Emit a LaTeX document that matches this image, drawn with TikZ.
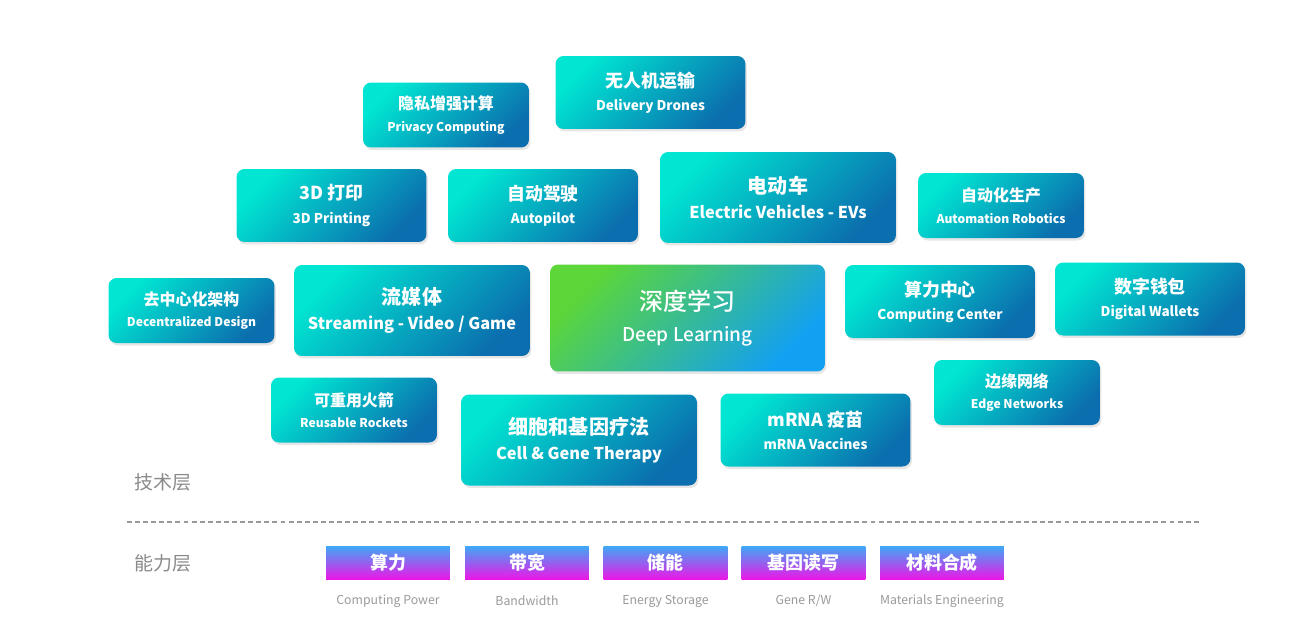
\documentclass[tikz,border=0pt]{standalone}
\usepackage{fontspec}
\setmainfont{Noto Sans CJK SC}
\newfontfamily\medfont{Noto Sans CJK SC Medium}
\usetikzlibrary{shadows}
\definecolor{aqua}{HTML}{00E6D2}
\definecolor{deepblue}{HTML}{0B6EAE}
\definecolor{leafgreen}{HTML}{5CD638}
\definecolor{skyblue}{HTML}{12A0F2}
\definecolor{barblue}{HTML}{3EA9F6}
\definecolor{barpink}{HTML}{EA18E6}
\definecolor{layergray}{HTML}{8A8A8A}
\definecolor{notegray}{HTML}{9A9A9A}
% two lines: Chinese size, English size, extra gap
\newcommand{\twolines}[5]{\fontsize{#1}{#1}\selectfont #4\\[#3]\fontsize{#2}{#2}\selectfont #5}
\newcommand{\txtS}[2]{\twolines{9.1pt}{6.9pt}{0.3pt}{#1}{#2}}
\newcommand{\txtM}[2]{\twolines{10.2pt}{7.7pt}{1.2pt}{#1}{#2}}
\newcommand{\txtL}[2]{\twolines{11.4pt}{9.3pt}{2.4pt}{#1}{#2}}
\tikzset{
  techbox/.style={rounded corners=0.16cm, top color=aqua, bottom color=deepblue,
    shading angle=45, text=white, align=center, font=\bfseries, inner sep=0pt,
    drop shadow={opacity=0.2, shadow xshift=0.03cm, shadow yshift=-0.05cm}},
  techS/.style={techbox, minimum width=3.32cm, minimum height=1.3cm},
  techM/.style={techbox, minimum width=3.8cm, minimum height=1.46cm},
  techL/.style={techbox, minimum width=4.72cm, minimum height=1.82cm},
  basebox/.style={top color=barblue, bottom color=barpink, text=white,
    minimum width=2.48cm, minimum height=0.66cm, inner sep=0pt,
    font=\bfseries\fontsize{10.2pt}{11pt}\selectfont},
  basenote/.style={text=notegray, font=\fontsize{7pt}{8pt}\selectfont},
  layer/.style={text=layergray, font=\fontsize{10.8pt}{12pt}\selectfont}
}
\begin{document}
\begin{tikzpicture}[x=0.02cm, y=-0.02cm]
    \useasboundingbox (0,0) rectangle (1296,633);
    % technology layer
    \node[techM] (drones) at (650.5,92.5) {\txtM{无人机运输}{Delivery Drones}};
    \node[techS] (privacy) at (446,115) {\txtS{隐私增强计算}{Privacy Computing}};
    \node[techM] (printing) at (331.5,205.5) {\txtM{3D 打印}{3D Printing}};
    \node[techM] (autopilot) at (543,205.5) {\txtM{自动驾驶}{Autopilot}};
    \node[techL] (evs) at (778,197.5) {\txtL{电动车}{Electric Vehicles - EVs}};
    \node[techS] (robotics) at (1001,205.5) {\txtS{自动化生产}{Automation Robotics}};
    \node[techS] (decentral) at (191.5,310.5) {\txtS{去中心化架构}{Decentralized Design}};
    \node[techL] (streaming) at (412,310.5) {\txtL{流媒体}{Streaming - Video / Game}};
    \node[techbox, top color=leafgreen, bottom color=skyblue, shading angle=45,
          font=\medfont, minimum width=5.5cm, minimum height=2.14cm] (deep) at (687.5,318)
          {\twolines{13.7pt}{10.8pt}{5.5pt}{深度学习}{Deep Learning}};
    \node[techM] (center) at (940,301.5) {\txtM{算力中心}{Computing Center}};
    \node[techM] (wallets) at (1150,299) {\txtM{数字钱包}{Digital Wallets}};
    \node[techS] (rockets) at (354,410) {\txtS{可重用火箭}{Reusable Rockets}};
    \node[techL] (gene) at (579,440) {\txtL{细胞和基因疗法}{Cell \& Gene Therapy}};
    \node[techM] (mrna) at (815.5,430) {\txtM{mRNA 疫苗}{mRNA Vaccines}};
    \node[techS] (edge) at (1017,392.5) {\txtS{边缘网络}{Edge Networks}};
    % layers
    \node[layer] (techlayer) at (163,482) {技术层};
    \coordinate (lineL) at (127,522);
    \coordinate (lineR) at (1200,522);
    \draw[notegray, line width=0.85pt, dash pattern=on 2.8pt off 1.8pt] (lineL) -- (lineR);
    \node[layer] (abilitylayer) at (163,563) {能力层};
    % capability layer
    \node[basebox] (power) at (388,562.5) {算力};
    \node[basebox] (band) at (527,562.5) {带宽};
    \node[basebox] (storage) at (665.5,562.5) {储能};
    \node[basebox] (rw) at (803.5,562.5) {基因读写};
    \node[basebox] (material) at (942,562.5) {材料合成};
    \node[basenote] at (power |- 0,601) (powernote) {Computing Power};
    \node[basenote] at (band |- 0,601) (bandnote) {Bandwidth};
    \node[basenote] at (storage |- 0,601) (storagenote) {Energy Storage};
    \node[basenote] at (rw |- 0,601) (rwnote) {Gene R/W};
    \node[basenote] at (material |- 0,601) (materialnote) {Materials Engineering};
\end{tikzpicture}
\end{document}
